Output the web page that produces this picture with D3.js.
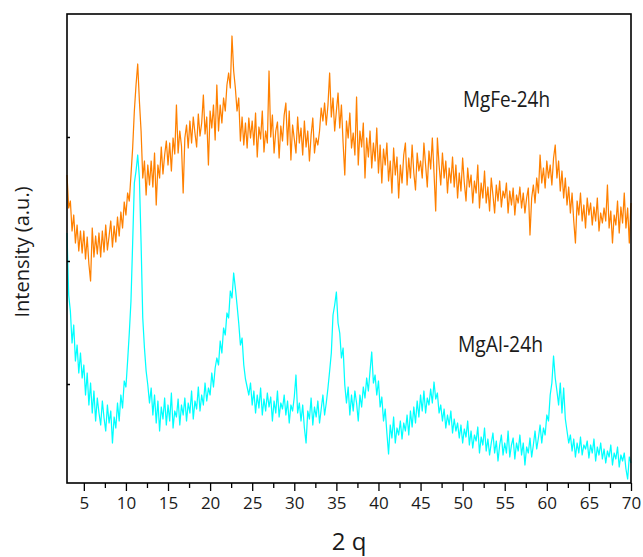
<!DOCTYPE html>
<html>
<head>
<meta charset="utf-8">
<script src="https://cdn.jsdelivr.net/npm/d3@7"></script>
<style>
  html, body { margin: 0; padding: 0; background: #fff; }
  svg { display: block; }
  text { font-family: "Open Sans", "Noto Sans", sans-serif; fill: #1a1a1a; }
</style>
</head>
<body>
<svg id="chart" width="643" height="557"></svg>
<script>
// 2θ sampling grid (degrees)
const thetaStart = 3.0;
const thetaStep = 0.2;

// MgFe-24h intensity (a.u.), one value per 0.2° from 3.0 to 70.0
const mgFe = [
  308,275,282,252,268,240,258,232,252,230,
  252,224,246,219,202,255,226,247,229,250,
  226,252,231,258,233,247,262,236,257,241,
  266,247,271,255,281,268,290,282,308,335,
  372,398,419,382,352,305,322,288,318,298,
  322,296,330,278,318,305,336,309,328,342,
  318,340,312,345,329,378,330,352,337,290,
  345,358,335,362,340,366,350,336,369,347,
  360,388,349,366,318,372,355,378,343,398,
  352,378,360,385,372,398,410,395,447,412,
  395,372,385,342,366,338,360,335,365,345,
  362,338,370,326,356,344,372,331,352,340,
  412,346,368,330,352,361,325,357,342,368,
  380,338,372,323,358,344,330,366,340,355,
  328,362,336,352,322,348,365,330,345,338,
  352,375,362,380,358,378,410,366,385,352,
  372,390,355,378,340,308,362,345,370,335,
  350,328,386,318,352,336,360,305,345,326,
  352,315,340,322,355,310,338,300,334,318,
  340,302,322,290,335,308,326,285,318,300,
  328,340,298,325,305,338,310,293,330,312,
  322,305,340,318,296,332,314,345,310,272,
  345,318,298,330,305,322,290,315,300,326,
  296,318,285,310,292,325,300,282,315,296,
  308,280,302,290,318,275,300,285,312,280,
  296,272,305,288,270,298,282,302,276,292,
  285,300,270,292,278,295,268,288,280,296,
  275,290,270,285,295,248,285,298,280,305,
  290,328,300,315,295,322,305,318,298,325,
  338,305,322,292,312,285,305,278,296,270,
  290,262,240,282,268,290,262,278,255,285,
  268,280,258,276,262,285,252,270,260,275,
  262,298,255,272,240,268,258,282,250,276,
  260,290,255,275,240,280
];

// MgAl-24h intensity (a.u.), one value per 0.2° from 3.0 to 70.0
const mgAl = [
  250,188,172,140,158,122,138,110,130,105,
  118,88,110,78,100,70,92,62,85,70,
  58,82,65,52,78,60,72,40,66,55,
  80,62,88,75,102,96,122,150,182,240,
  300,312,328,305,240,165,135,112,98,80,
  95,68,88,60,82,52,76,64,85,58,
  78,62,90,55,72,66,84,58,78,68,
  85,62,80,70,92,64,82,74,96,72,
  88,78,100,82,95,88,110,96,115,125,
  118,142,130,155,148,170,165,192,185,210,
  195,178,160,138,145,118,104,96,88,100,
  78,92,70,88,75,95,68,84,72,90,
  76,86,62,82,70,92,66,80,74,88,
  68,82,60,78,72,86,108,70,80,62,
  78,55,40,72,64,85,58,76,66,82,
  60,74,88,68,80,95,112,130,168,178,
  191,160,150,125,135,98,80,96,68,88,
  72,92,80,62,88,76,96,85,105,92,
  112,131,100,108,88,102,76,86,62,74,
  50,29,58,45,66,40,55,48,62,44,
  60,52,68,48,72,56,76,60,82,66,
  88,72,92,70,85,78,94,80,101,84,
  90,70,78,62,74,55,68,58,72,50,
  64,52,60,45,58,40,54,46,62,38,
  52,35,48,42,56,30,46,38,55,32,
  44,28,40,50,30,42,22,38,48,28,
  40,30,52,26,38,45,24,40,32,48,
  28,40,18,36,30,45,26,38,52,34,
  45,58,40,55,48,68,62,88,100,127,
  105,92,78,100,70,95,64,52,40,48,
  32,44,26,40,30,46,28,38,34,42,
  25,38,30,44,22,36,28,40,24,34,
  20,32,26,38,18,30,24,36,16,28,
  22,30,14,4,26,20
];

const xTicks = [5,10,15,20,25,30,35,40,45,50,55,60,65,70];
const xMinorTicks = [7.5,12.5,17.5,22.5,27.5,32.5,37.5,42.5,47.5,52.5,57.5,62.5,67.5];
const yTicks = [99, 222, 346];
const seriesLabels = ["MgFe-24h", "MgAl-24h"];
const xTitle = "2 q";
const yTitle = "Intensity (a.u.)";

const margin = {left: 67, right: 12, top: 14, bottom: 74};
const W = 643, H = 557;
const svg = d3.select("#chart");

const x = d3.scaleLinear().domain([3, 70]).range([margin.left, W - margin.right]);
const y = d3.scaleLinear().domain([0, 469]).range([H - margin.bottom, margin.top]);

const toPts = arr => arr.map((v, i) => [thetaStart + i * thetaStep, v]);
const line = d3.line().x(d => x(d[0])).y(d => y(d[1]));

const g = svg.append("g");

// series
g.append("path").datum(toPts(mgFe))
  .attr("fill", "none").attr("stroke", "#ff8000").attr("stroke-width", 1.25)
  .attr("stroke-linejoin", "round").attr("d", line);
g.append("path").datum(toPts(mgAl))
  .attr("fill", "none").attr("stroke", "#00ffff").attr("stroke-width", 1.25)
  .attr("stroke-linejoin", "round").attr("d", line);

// frame
g.append("rect")
  .attr("x", x(3)).attr("y", y(469))
  .attr("width", x(70) - x(3)).attr("height", y(0) - y(469))
  .attr("fill", "none").attr("stroke", "#000").attr("stroke-width", 1.6);

// x axis
const xAxis = d3.axisBottom(x).tickValues(xTicks).tickSize(8).tickPadding(6).tickFormat(d3.format("d"));
const xa = svg.append("g").attr("transform", `translate(0,${y(0)})`).call(xAxis);
xa.select(".domain").remove();
xa.selectAll(".tick line").attr("stroke", "#000").attr("stroke-width", 1.3);
xa.selectAll(".tick text").style("font-size", "17px").attr("fill", "#1a1a1a").style("font-family", "'Open Sans', sans-serif");

const xMinor = d3.axisBottom(x).tickValues(xMinorTicks).tickSize(5).tickFormat("");
const xm = svg.append("g").attr("transform", `translate(0,${y(0)})`).call(xMinor);
xm.select(".domain").remove();
xm.selectAll(".tick line").attr("stroke", "#000").attr("stroke-width", 1.3);

// y axis (ticks only, inward)
const yAxis = d3.axisRight(y).tickValues(yTicks).tickSize(3).tickFormat("");
const ya = svg.append("g").attr("transform", `translate(${x(3)},0)`).call(yAxis);
ya.select(".domain").remove();
ya.selectAll(".tick line").attr("stroke", "#000").attr("stroke-width", 1.5);

// series labels
svg.append("text").attr("x", 463).attr("y", 107)
  .style("font-size", "22px").attr("textLength", 87).attr("lengthAdjust", "spacingAndGlyphs")
  .text(seriesLabels[0]);
svg.append("text").attr("x", 458).attr("y", 352)
  .style("font-size", "22px").attr("textLength", 85).attr("lengthAdjust", "spacingAndGlyphs")
  .text(seriesLabels[1]);

// axis titles
svg.append("text").attr("x", (x(3) + x(70)) / 2).attr("y", 550)
  .attr("text-anchor", "middle").style("font-size", "24px")
  .text(xTitle);
svg.append("text").attr("transform", "translate(29,252) rotate(-90)")
  .attr("text-anchor", "middle").style("font-size", "20px")
  .text(yTitle);
</script>
</body>
</html>
